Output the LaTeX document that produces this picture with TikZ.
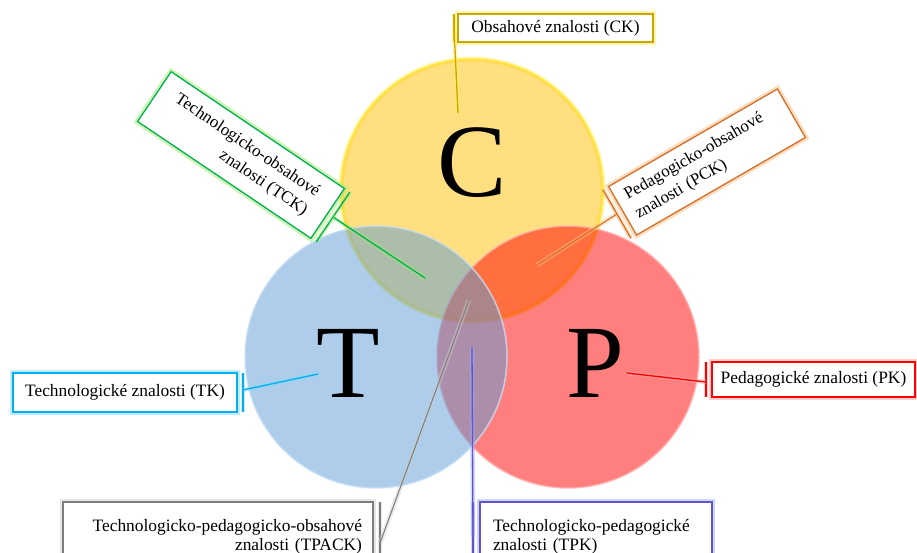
\documentclass[tikz,border=0pt]{standalone}
\usepackage{fontspec}
\setmainfont{Liberation Serif}
\usetikzlibrary{calc}
\definecolor{cfill}{RGB}{255,192,0}
\definecolor{tfill}{RGB}{91,155,213}
\definecolor{pfill}{RGB}{255,0,0}
\definecolor{crim}{RGB}{255,228,60}
\definecolor{trim}{RGB}{200,222,245}
\definecolor{prim}{RGB}{255,175,175}
\definecolor{ckc}{RGB}{205,165,0}
\definecolor{ckg}{RGB}{255,240,90}
\definecolor{tckc}{RGB}{0,176,80}
\definecolor{tckg}{RGB}{160,235,110}
\definecolor{pckc}{RGB}{215,110,40}
\definecolor{pckg}{RGB}{250,190,130}
\definecolor{tkc}{RGB}{0,176,240}
\definecolor{tkg}{RGB}{130,215,250}
\definecolor{pkc}{RGB}{255,0,0}
\definecolor{pkg}{RGB}{255,160,160}
\definecolor{tpackc}{RGB}{125,125,125}
\definecolor{tpackg}{RGB}{205,205,205}
\definecolor{tpkc}{RGB}{105,80,200}
\definecolor{tpkg}{RGB}{150,175,250}
\begin{document}
\begin{tikzpicture}[x=1pt,y=-1pt,
  lbl/.style={font=\fontsize{17.4}{19}\selectfont, fill=white, line width=1.3pt, inner sep=0pt},
  rlbl/.style={font=\fontsize{17}{22}\selectfont},
  glowbox/.style 2 args={lbl, draw=#1, preaction={draw=#2, line width=6pt, opacity=0.5}},
  glowline/.style 2 args={draw=#1, line width=1.3pt, preaction={draw=#2, line width=4.5pt, opacity=0.45}},
  big/.style={font=\fontsize{104}{104}\selectfont, inner sep=0pt},
  circ/.style={circle, minimum size=262pt, inner sep=0pt, fill opacity=0.5, line width=1.5pt}
]
\useasboundingbox (0,0) rectangle (917,553);
\clip (0,0) rectangle (917,553);

% circles
\node[circ, fill=cfill, draw=crim, draw opacity=0.9,
      preaction={draw=ckg, line width=5pt, draw opacity=0.5}] (C) at (472,190) {};
\node[circ, fill=pfill, draw=prim, draw opacity=0.8] (P) at (568,357) {};
\node[circ, fill=tfill, draw=trim, draw opacity=0.8] (T) at (376,357) {};

% letters
\node[big] (Cl) at (472,163) {C};
\node[big] (Tl) at (348,363) {T};
\node[big] (Pl) at (595,363) {P};

% end points of connectors
\coordinate (ckend) at (458,113);
\coordinate (tckend) at (425,278);
\coordinate (pckend) at (537,265);
\coordinate (tkend) at (318,374);
\coordinate (pkend) at (627,373);
\coordinate (tpackend) at (469,300);
\coordinate (tpkend) at (472,347);

% rotated callouts: accent bars
\begin{scope}[shift={(241,155)}, rotate=-34]
  \coordinate (tckb1) at (111,-30);
  \coordinate (tckb2) at (111,30);
  \coordinate (tckbm) at (111,0);
\end{scope}
\begin{scope}[shift={(707,162)}, rotate=30]
  \coordinate (pckb1) at (-104,-28);
  \coordinate (pckb2) at (-104,28);
  \coordinate (pckbm) at (-104,0);
\end{scope}
\coordinate (ckb1) at (454,14);
\coordinate (ckb2) at (454,42);
\coordinate (ckbm) at (454,28);
\coordinate (tkb1) at (243,373);
\coordinate (tkb2) at (243,412);
\coordinate (tkbm) at (243,390);
\coordinate (pkb1) at (706,362);
\coordinate (pkb2) at (706,397);
\coordinate (pkbm) at (706,382);
\coordinate (tpackb1) at (380,502);
\coordinate (tpackb2) at (380,580);
\coordinate (tpackbm) at (380,543);
\coordinate (tpkb1) at (473,502);
\coordinate (tpkb2) at (473,580);
\coordinate (tpkbm) at (473,537);

% connectors and accent bars
\draw[glowline={ckc}{ckg}] (ckb1) -- (ckb2);
\draw[glowline={ckc}{ckg}] (ckbm) -- (ckend);
\draw[glowline={tckc}{tckg}] (tckb1) -- (tckb2);
\draw[glowline={tckc}{tckg}] (tckbm) -- (tckend);
\draw[glowline={pckc}{pckg}] (pckb1) -- (pckb2);
\draw[glowline={pckc}{pckg}, line width=1pt] (pckbm) -- (pckend);
\draw[glowline={tkc}{tkg}] (tkb1) -- (tkb2);
\draw[glowline={tkc}{tkg}] (tkbm) -- (tkend);
\draw[glowline={pkc}{pkg}] (pkb1) -- (pkb2);
\draw[glowline={pkc}{pkg}] (pkbm) -- (pkend);
\draw[glowline={tpackc}{tpackg}] (tpackb1) -- (tpackb2);
\draw[glowline={tpackc}{tpackg}, line width=1pt] (tpackbm) -- (tpackend);
\draw[glowline={tpkc}{tpkg}] (tpkb1) -- (tpkb2);
\draw[glowline={tpkc}{tpkg}] (tpkbm) -- (tpkend);

% boxes
\node[glowbox={ckc}{ckg}, minimum width=195pt, minimum height=28pt] (ck) at (555.5,28) {Obsahové znalosti (CK)};
\begin{scope}[shift={(241,155)}, rotate=-34]
  \node[glowbox={tckc}{tckg}, rlbl, transform shape, minimum width=209pt, minimum height=60pt, align=right] (tck) at (0,0) {Technologicko-obsahové\\znalosti (TCK)};
\end{scope}
\begin{scope}[shift={(707,162)}, rotate=30]
  \node[glowbox={pckc}{pckg}, rlbl, transform shape, minimum width=195pt, minimum height=56pt, text width=175pt, align=left] (pck) at (0,0) {Pedagogicko-obsahové\\znalosti (PCK)};
\end{scope}
\node[glowbox={tkc}{tkg}, minimum width=224pt, minimum height=39pt] (tk) at (125,392.5) {Technologické znalosti (TK)};
\node[glowbox={pkc}{pkg}, minimum width=203pt, minimum height=35pt] (pk) at (813.5,379.5) {Pedagogické znalosti (PK)};
\node[glowbox={tpackc}{tpackg}, minimum width=310pt, minimum height=70pt, text width=288pt, align=right] (tpack) at (218,537) {Technologicko-pedagogicko-obsahové\\znalosti (TPACK)};
\node[glowbox={tpkc}{tpkg}, minimum width=232pt, minimum height=70pt, text width=206pt, align=left] (tpk) at (596,537) {Technologicko-pedagogické\\znalosti (TPK)};
\end{tikzpicture}
\end{document}
